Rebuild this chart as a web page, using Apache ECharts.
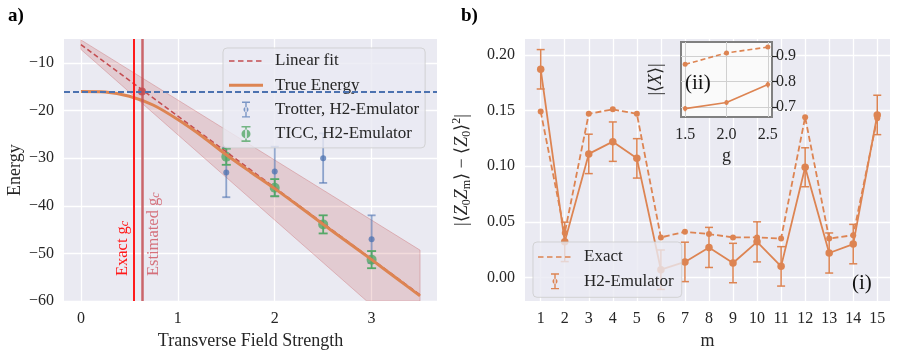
<!DOCTYPE html>
<html>
<head>
<meta charset="utf-8">
<script src="https://cdn.jsdelivr.net/npm/echarts@6/dist/echarts.min.js"></script>
<style>
  html, body { margin: 0; padding: 0; background: #fff; }
  #chart { width: 898px; height: 355px; }
</style>
</head>
<body>
<div id="chart"></div>
<script>
// ---------- panel a) energy vs transverse field ----------
const fieldTrue = [0, 0.25, 0.5, 0.75, 1, 1.25, 1.5, 1.75, 2, 2.25, 2.5, 2.75, 3, 3.25, 3.5];
const energyTrue = [-16.0, -16.1, -17.0, -18.9, -21.9, -25.4, -29.3, -32.9, -36.4, -40.1, -43.9, -47.6, -51.3, -55.1, -58.9];
const fitField = [0, 3.5];
const fitEnergy = [-6.2, -58.7];
// band outline (upper edge, then lower edge back)
const bandField = [0, 3.5, 3.5, 2.95, 0];
const bandEnergy = [-5.2, -49.3, -60, -60, -7.2];
const fieldData = [1.5, 2, 2.5, 3];
const trotterE = [-33.0, -32.8, -30.0, -47.0];
const trotterErr = [5.2, 5.2, 5.2, 5.0];
const ticcE = [-29.7, -36.2, -43.9, -51.3];
const ticcErr = [1.7, 1.8, 1.9, 1.8];
const groundE = -16;
const gcExact = 0.55;
const gcEstimated = 0.63;
const aXTicks = [0, 1, 2, 3];
const aYTicks = [-60, -50, -40, -30, -20, -10];

// ---------- panel b) correlations ----------
const mVals = [1, 2, 3, 4, 5, 6, 7, 8, 9, 10, 11, 12, 13, 14, 15];
const corrExact = [0.149, 0.040, 0.147, 0.151, 0.147, 0.036, 0.041, 0.039, 0.036, 0.036, 0.035, 0.144, 0.035, 0.038, 0.143];
const corrEmu = [0.187, 0.032, 0.111, 0.122, 0.107, 0.007, 0.014, 0.027, 0.013, 0.032, 0.010, 0.099, 0.022, 0.030, 0.146];
const corrErr = [0.0177, 0.0177, 0.0177, 0.0177, 0.0177, 0.0177, 0.0177, 0.018, 0.0177, 0.018, 0.0177, 0.0175, 0.018, 0.0177, 0.0177];
const bYTicks = [0, 0.05, 0.1, 0.15, 0.2];

// ---------- inset (ii) ----------
const gInset = [1.5, 2.0, 2.5];
const xExact = [0.867, 0.912, 0.935];
const xEmu = [0.693, 0.717, 0.788];
const xEmuErr = [0.010, 0.010, 0.012];
const insetXTicks = [1.5, 2.0, 2.5];
const insetYTicks = [0.7, 0.8, 0.9];

const serif = 'Liberation Serif';
const ink = '#262626';
const blue = '#4C72B0', green = '#55A868', red = '#C44E52', orange = '#DD8452';

const pairs = (xs, ys) => xs.map((x, i) => [x, ys[i]]);
const triples = (xs, ys, es) => xs.map((x, i) => [x, ys[i], es[i]]);
const minus = v => (v < 0 ? '\u2212' + Math.abs(v) : String(v));

// error bar drawn through the axes
function errorBars(color, width, cap, opacity) {
  return function (params, api) {
    const x = api.value(0), y = api.value(1), e = api.value(2);
    const top = api.coord([x, y + e]);
    const bot = api.coord([x, y - e]);
    const style = { stroke: color, lineWidth: width, opacity: opacity };
    const kids = [{ type: 'line', shape: { x1: top[0], y1: top[1], x2: bot[0], y2: bot[1] }, style }];
    if (cap > 0) {
      kids.push({ type: 'line', shape: { x1: top[0] - cap, y1: top[1], x2: top[0] + cap, y2: top[1] }, style });
      kids.push({ type: 'line', shape: { x1: bot[0] - cap, y1: bot[1], x2: bot[0] + cap, y2: bot[1] }, style });
    }
    return { type: 'group', children: kids };
  };
}

const gridLine = { show: true, lineStyle: { color: '#ffffff', width: 1.3 } };
const tickFont = { color: ink, fontFamily: serif, fontSize: 16 };
const nameFont = { color: ink, fontFamily: serif, fontSize: 18 };

// legend icons (34 x 16 box)
const iconDash = 'path://M0,0M34,16M0,7.2h5.5v1.6h-5.5zM9,7.2h5.5v1.6h-5.5zM18,7.2h5.5v1.6h-5.5zM27,7.2h5.5v1.6h-5.5z';
const iconLine = 'path://M0,0M34,16M0,6.5h34v3h-34z';
const iconErrSmall = 'path://M0,0M34,16M16.3,0h1.4v16h-1.4zM13,0h8v1.4h-8zM13,14.6h8v1.4h-8zM14.5,8a2.5,2.5 0 1,0 5,0a2.5,2.5 0 1,0 -5,0z';
const iconErrBig = 'path://M0,0M34,16M16.2,0h1.6v16h-1.6zM12.5,0h9v1.6h-9zM12.5,14.4h9v1.6h-9zM12.5,8a4.5,4.5 0 1,0 9,0a4.5,4.5 0 1,0 -9,0z';

const legendBase = {
  orient: 'vertical', itemWidth: 34, itemHeight: 16, itemGap: 6.3,
  backgroundColor: 'rgba(234,234,242,0.8)', borderColor: 'rgba(204,204,204,0.8)', borderWidth: 1,
  borderRadius: 4, selectedMode: false, symbolKeepAspect: false,
  itemStyle: { borderWidth: 0 },
  textStyle: { color: ink, fontFamily: serif, fontSize: 17, lineHeight: 18, padding: [0, 0, 0, 7] }
};

const chart = echarts.init(document.getElementById('chart'), null, { renderer: 'canvas' });

chart.setOption({
  animation: false,
  backgroundColor: '#ffffff',
  title: [
    { text: 'a)', left: 3, top: 2, textStyle: { fontFamily: serif, fontSize: 19, fontWeight: 'bold', color: '#000' } },
    { text: 'b)', left: 456, top: 2, textStyle: { fontFamily: serif, fontSize: 19, fontWeight: 'bold', color: '#000' } }
  ],
  grid: [
    { left: 64, top: 39, width: 373, height: 266, show: true, backgroundColor: '#EAEAF2', borderWidth: 0 },
    { left: 525, top: 39, width: 365, height: 266, show: true, backgroundColor: '#EAEAF2', borderWidth: 0 },
    { left: 681, top: 42, width: 91, height: 75, show: true, backgroundColor: '#fafafa', borderColor: '#808080', borderWidth: 2, z: 3 }
  ],
  xAxis: [
    {
      gridIndex: 0, type: 'value', min: -0.175, max: 3.675,
      axisLine: { show: false }, axisTick: { show: false, customValues: aXTicks },
      axisLabel: Object.assign({ customValues: aXTicks, margin: 10, formatter: minus }, tickFont),
      splitLine: gridLine,
      name: 'Transverse Field Strength', nameLocation: 'middle', nameGap: 28, nameTextStyle: nameFont
    },
    {
      gridIndex: 1, type: 'value', min: 0.347, max: 15.53,
      axisLine: { show: false }, axisTick: { show: false, customValues: mVals },
      axisLabel: Object.assign({ customValues: mVals, margin: 10 }, tickFont),
      splitLine: gridLine,
      name: 'm', nameLocation: 'middle', nameGap: 28, nameTextStyle: nameFont
    },
    {
      gridIndex: 2, type: 'value', min: 1.45, max: 2.55, z: 3,
      axisLine: { show: false }, axisTick: { show: false, customValues: insetXTicks },
      axisLabel: Object.assign({ customValues: insetXTicks, margin: 10, formatter: v => v.toFixed(1) }, tickFont),
      splitLine: { show: true, lineStyle: { color: '#d0d0d0', width: 1 } },
      name: 'g', nameLocation: 'middle', nameGap: 30, nameTextStyle: nameFont
    }
  ],
  yAxis: [
    {
      gridIndex: 0, type: 'value', min: -60, max: -5,
      axisLine: { show: false }, axisTick: { show: false, customValues: aYTicks },
      axisLabel: Object.assign({ customValues: aYTicks, margin: 10, formatter: minus }, tickFont),
      splitLine: gridLine,
      name: 'Energy', nameLocation: 'middle', nameRotate: 90, nameGap: 40, nameTextStyle: nameFont
    },
    {
      gridIndex: 1, type: 'value', min: -0.0212, max: 0.2142,
      axisLine: { show: false }, axisTick: { show: false, customValues: bYTicks },
      axisLabel: Object.assign({ customValues: bYTicks, margin: 10, formatter: v => v.toFixed(2) }, tickFont),
      splitLine: gridLine,
      name: '{n||\u27E8}{i|Z}{s|0}{i|Z}{s|m}{n|\u27E9 \u2212 \u27E8}{i|Z}{s|0}{n|\u27E9}{p|2}{n||}',
      nameLocation: 'middle', nameRotate: 90, nameGap: 52,
      nameTextStyle: {
        color: ink, fontFamily: serif, fontSize: 18,
        rich: {
          n: { fontFamily: serif, fontSize: 18, lineHeight: 22 },
          i: { fontFamily: serif, fontSize: 18, fontStyle: 'italic', lineHeight: 22 },
          s: { fontFamily: serif, fontSize: 12, lineHeight: 12, verticalAlign: 'bottom' },
          p: { fontFamily: serif, fontSize: 12, lineHeight: 12, verticalAlign: 'top' }
        }
      }
    },
    {
      gridIndex: 2, type: 'value', position: 'right', min: 0.66, max: 0.955, z: 3,
      axisLine: { show: false },
      axisTick: { show: true, inside: false, length: 5, customValues: insetYTicks, lineStyle: { color: '#222', width: 1.2 } },
      axisLabel: Object.assign({ customValues: insetYTicks, margin: 4, formatter: v => v.toFixed(1) }, tickFont),
      splitLine: { show: true, lineStyle: { color: '#d0d0d0', width: 1 } }
    },
    {
      gridIndex: 2, type: 'value', position: 'left', min: 0.66, max: 0.955, z: 3,
      axisLine: { show: false }, axisTick: { show: false }, axisLabel: { show: false }, splitLine: { show: false },
      name: '{n||\u27E8}{i|X}{n|\u27E9|}', nameLocation: 'middle', nameRotate: 90, nameGap: 16,
      nameTextStyle: {
        color: ink, fontFamily: serif, fontSize: 18,
        rich: {
          n: { fontFamily: serif, fontSize: 18 },
          i: { fontFamily: serif, fontSize: 18, fontStyle: 'italic' }
        }
      }
    }
  ],
  legend: [
    Object.assign({}, legendBase, {
      left: 223, top: 48, padding: [4, 6, 5, 6],
      data: [
        { name: 'Linear fit', icon: iconDash, itemStyle: { color: red, borderWidth: 0 } },
        { name: 'True Energy', icon: iconLine, itemStyle: { color: orange, borderWidth: 0 } },
        { name: 'Trotter, H2-Emulator', icon: iconErrSmall, itemStyle: { color: blue, opacity: 0.7, borderWidth: 0 } },
        { name: 'TICC, H2-Emulator', icon: iconErrBig, itemStyle: { color: green, borderWidth: 0 } }
      ]
    }),
    Object.assign({}, legendBase, {
      left: 533, top: 242, padding: [6, 8, 7, 5],
      data: [
        { name: 'Exact', icon: iconDash, itemStyle: { color: orange, borderWidth: 0 } },
        { name: 'H2-Emulator', icon: iconErrSmall, itemStyle: { color: orange, borderWidth: 0 } }
      ]
    })
  ],
  graphic: [
    { type: 'text', left: 852, top: 273, z: 10, style: { text: '(i)', font: '21px "Liberation Serif"', fill: '#111' } },
    { type: 'text', left: 685, top: 73, z: 10, style: { text: '(ii)', font: '21px "Liberation Serif"', fill: '#111' } }
  ],
  series: [
    // ----- panel a -----
    {
      type: 'custom', name: 'band', xAxisIndex: 0, yAxisIndex: 0, silent: true, clip: true,
      data: [0],
      renderItem: function (params, api) {
        const pts = bandField.map((g, i) => api.coord([g, bandEnergy[i]]));
        return {
          type: 'polygon', shape: { points: pts },
          style: { fill: 'rgba(196,78,82,0.2)', stroke: 'rgba(196,78,82,0.3)', lineWidth: 1 }
        };
      }
    },
    {
      type: 'line', name: 'Linear fit', xAxisIndex: 0, yAxisIndex: 0, data: pairs(fitField, fitEnergy),
      symbol: 'none', lineStyle: { color: red, width: 1.6, type: [5, 3] }, itemStyle: { color: red }
    },
    {
      type: 'line', name: 'True Energy', xAxisIndex: 0, yAxisIndex: 0, data: pairs(fieldTrue, energyTrue),
      smooth: 0.3, symbol: 'none', lineStyle: { color: orange, width: 3 }, itemStyle: { color: orange }
    },
    {
      type: 'line', name: 'refs', xAxisIndex: 0, yAxisIndex: 0, data: [], silent: true,
      markLine: {
        silent: true, symbol: ['none', 'none'], animation: false,
        data: [
          { yAxis: groundE, lineStyle: { color: blue, width: 1.8, type: [6, 3] }, label: { show: false } },
          {
            xAxis: gcExact, lineStyle: { color: '#ff1a1a', width: 2, type: 'solid' },
            label: {
              show: true, position: 'insideStartTop', distance: [25, 3], color: '#ff1a1a',
              formatter: '{t|Exact g}{s|c}',
              rich: {
                t: { fontFamily: serif, fontSize: 16.5, color: '#ff1a1a' },
                s: { fontFamily: serif, fontSize: 12, fontStyle: 'italic', color: '#ff1a1a', verticalAlign: 'bottom', lineHeight: 11 }
              }
            }
          },
          {
            xAxis: gcEstimated, lineStyle: { color: red, width: 2.5, opacity: 0.85, type: 'solid' },
            label: {
              show: true, position: 'insideStartBottom', distance: [25, 3], color: '#d05a66',
              formatter: '{t|Estimated g}{s|c}',
              rich: {
                t: { fontFamily: serif, fontSize: 16.5, color: '#d05a66' },
                s: { fontFamily: serif, fontSize: 12, fontStyle: 'italic', color: '#d05a66', verticalAlign: 'bottom', lineHeight: 11 }
              }
            }
          }
        ]
      }
    },
    {
      type: 'scatter', name: 'gc point', xAxisIndex: 0, yAxisIndex: 0, data: [[gcEstimated, groundE]],
      symbolSize: 8, itemStyle: { color: red, opacity: 0.9 }
    },
    {
      type: 'custom', name: 'trotter err', xAxisIndex: 0, yAxisIndex: 0, silent: true,
      data: triples(fieldData, trotterE, trotterErr), renderItem: errorBars(blue, 1.8, 4, 0.6)
    },
    {
      type: 'scatter', name: 'Trotter, H2-Emulator', xAxisIndex: 0, yAxisIndex: 0, data: pairs(fieldData, trotterE),
      symbolSize: 6, itemStyle: { color: blue, opacity: 0.75 }
    },
    {
      type: 'custom', name: 'ticc err', xAxisIndex: 0, yAxisIndex: 0, silent: true,
      data: triples(fieldData, ticcE, ticcErr), renderItem: errorBars(green, 1.8, 4.5, 1)
    },
    {
      type: 'scatter', name: 'TICC, H2-Emulator', xAxisIndex: 0, yAxisIndex: 0, data: pairs(fieldData, ticcE),
      symbolSize: 10, itemStyle: { color: green }
    },
    // ----- panel b -----
    {
      type: 'line', name: 'Exact', xAxisIndex: 1, yAxisIndex: 1, data: pairs(mVals, corrExact),
      symbol: 'circle', symbolSize: 6, lineStyle: { color: orange, width: 1.8, type: [6, 3] }, itemStyle: { color: orange }
    },
    {
      type: 'custom', name: 'emu err', xAxisIndex: 1, yAxisIndex: 1, silent: true,
      data: triples(mVals, corrEmu, corrErr), renderItem: errorBars(orange, 1.5, 4, 1)
    },
    {
      type: 'line', name: 'H2-Emulator', xAxisIndex: 1, yAxisIndex: 1, data: pairs(mVals, corrEmu),
      symbol: 'circle', symbolSize: 7.5, lineStyle: { color: orange, width: 1.8 }, itemStyle: { color: orange }
    },
    // ----- inset -----
    {
      type: 'line', name: 'inset exact', xAxisIndex: 2, yAxisIndex: 2, data: pairs(gInset, xExact), z: 4,
      symbol: 'circle', symbolSize: 5, lineStyle: { color: orange, width: 1.6, type: [5, 3] }, itemStyle: { color: orange }
    },
    {
      type: 'custom', name: 'inset err', xAxisIndex: 2, yAxisIndex: 2, silent: true, z: 4,
      data: triples(gInset, xEmu, xEmuErr), renderItem: errorBars(orange, 1.5, 0, 1)
    },
    {
      type: 'line', name: 'inset emu', xAxisIndex: 2, yAxisIndex: 2, data: pairs(gInset, xEmu), z: 4,
      symbol: 'circle', symbolSize: 4.5, lineStyle: { color: orange, width: 1.6 }, itemStyle: { color: orange }
    }
  ]
});
</script>
</body>
</html>
